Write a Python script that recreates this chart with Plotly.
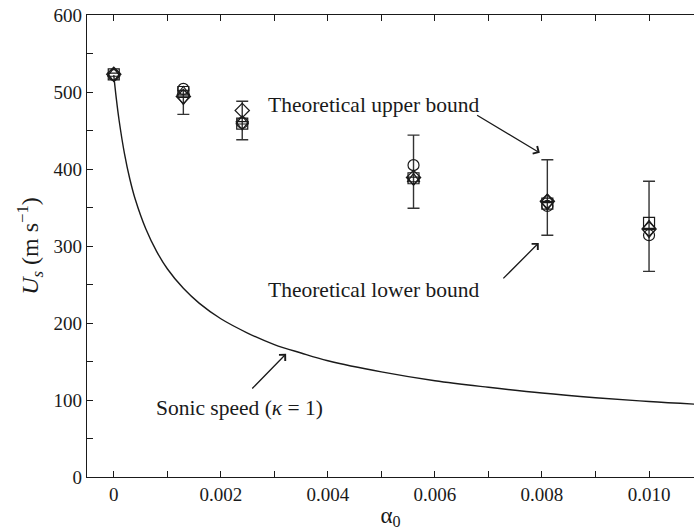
import plotly.graph_objects as go

# ---- data ----
alpha = [0.0, 0.0013, 0.0024, 0.0056, 0.0081, 0.0100]
us_circle = [522, 504, 460, 405, 352, 314]
us_square = [523, 500, 459, 388, 355, 330]
us_diamond = [523, 494, 476, 389, 358, 322]
us_triup = [524, 500, 462, 387, 360, 326]
us_tridown = [521, 491, 458, 386, 354, 318]

bound_alpha = [0.0013, 0.0024, 0.0056, 0.0081, 0.0100]
bound_upper = [502, 488, 444, 412, 384]
bound_lower = [471, 438, 349, 314, 267]

sonic_alpha = [0.0, 0.00005, 0.0001, 0.0002, 0.0003, 0.0004, 0.0006, 0.0008, 0.001,
               0.0013, 0.0016, 0.002, 0.0025, 0.003, 0.0035, 0.004, 0.005, 0.006,
               0.007, 0.008, 0.009, 0.010, 0.011]
sonic_us = [522, 490, 463, 420, 387, 361, 322, 293, 270.5,
            245, 225.5, 205.5, 187, 172, 161, 151, 136.5, 125,
            116.5, 109, 103, 98, 94]

xtick_vals = [0, 0.002, 0.004, 0.006, 0.008, 0.010]
xtick_text = ["0", "0.002", "0.004", "0.006", "0.008", "0.010"]
ytick_vals = [0, 100, 200, 300, 400, 500, 600]

FONT = "Liberation Serif"
INK = "#1a1a1a"

fig = go.Figure()

fig.add_trace(go.Scatter(
    x=sonic_alpha, y=sonic_us, mode="lines", line=dict(color=INK, width=1.4, shape="spline"),
    showlegend=False, hoverinfo="skip"))

mid = [(u + l) / 2 for u, l in zip(bound_upper, bound_lower)]
half = [(u - l) / 2 for u, l in zip(bound_upper, bound_lower)]
fig.add_trace(go.Scatter(
    x=bound_alpha, y=mid, mode="markers",
    marker=dict(size=1, color="rgba(0,0,0,0)"),
    error_y=dict(type="data", array=half, symmetric=True, color="#333333", thickness=1.4, width=6),
    showlegend=False, hoverinfo="skip"))

for ys, sym in [(us_circle, "circle-open"), (us_square, "square-open"),
                (us_diamond, "diamond-open"), (us_triup, "triangle-up-open"),
                (us_tridown, "triangle-down-open")]:
    fig.add_trace(go.Scatter(
        x=alpha, y=ys, mode="markers",
        marker=dict(symbol=sym, size=11, color=INK, line=dict(width=1.2, color=INK)),
        showlegend=False))

axis_common = dict(showline=True, linecolor=INK, linewidth=1.4, ticks="inside", ticklen=6,
                   tickwidth=1.2, tickcolor=INK, showgrid=False, zeroline=False,
                   ticklabeloverflow="allow",
                   tickfont=dict(family=FONT, size=19, color=INK))

fig.update_xaxes(range=[-0.0005, 0.01084], tickvals=xtick_vals, ticktext=xtick_text,
                 mirror="allticks",
                 minor=dict(ticks="inside", ticklen=6, tickwidth=1.2, tickcolor=INK, dtick=0.001,
                            tick0=0, showgrid=False),
                 title=dict(text="α<sub>0</sub>", font=dict(family=FONT, size=23, color=INK), standoff=2),
                 **axis_common)
fig.update_yaxes(range=[0, 600], tickvals=ytick_vals, mirror=False,
                 minor=dict(ticks="inside", ticklen=6, tickwidth=1.2, tickcolor=INK, dtick=50,
                            tick0=0, showgrid=False),
                 title=dict(text="<i>U<sub>s</sub></i> (m s<sup>−1</sup>)",
                            font=dict(family=FONT, size=24, color=INK), standoff=8),
                 **axis_common)

ann_font = dict(family=FONT, size=21.5, color=INK)
annotations = [
    dict(x=0.00487, y=483, text="Theoretical upper bound", showarrow=False, font=ann_font),
    dict(x=0.00487, y=243, text="Theoretical lower bound", showarrow=False, font=ann_font),
    dict(x=0.00234, y=90, text="Sonic speed (<i>κ</i> = 1)", showarrow=False, font=ann_font),
    dict(x=0.00796, y=421, ax=0.00676, ay=471, axref="x", ayref="y", text="", showarrow=True,
         arrowhead=4, arrowsize=1.3, arrowwidth=1.3, arrowcolor=INK),
    dict(x=0.00794, y=304, ax=0.00725, ay=256, axref="x", ayref="y", text="", showarrow=True,
         arrowhead=4, arrowsize=1.3, arrowwidth=1.3, arrowcolor=INK),
    dict(x=0.00322, y=160, ax=0.00256, ay=113, axref="x", ayref="y", text="", showarrow=True,
         arrowhead=4, arrowsize=1.3, arrowwidth=1.3, arrowcolor=INK),
]
fig.update_layout(
    width=694, height=532,
    margin=dict(l=87, r=0, t=15, b=55),
    plot_bgcolor="white", paper_bgcolor="white",
    font=dict(family=FONT, color=INK),
    annotations=annotations,
)

fig.write_html("out.html", config={"displayModeBar": False},
               post_script="document.body.style.margin='0';document.body.style.overflow='hidden';")
